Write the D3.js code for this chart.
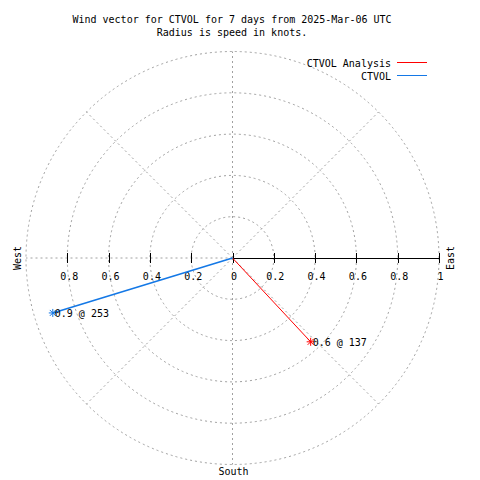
<!DOCTYPE html>
<html><head><meta charset="utf-8">
<script src="https://cdn.jsdelivr.net/npm/d3@7"></script>
<style>
html,body{margin:0;padding:0;background:#fff;}
svg{display:block;}
text{font-family:"DejaVu Sans Mono",monospace;font-size:10px;fill:#000;}
</style></head>
<body>
<script>
// ---- data ----
const seriesNames = ["CTVOL Analysis", "CTVOL"];
const seriesColors = ["#ff0000", "#1478e6"];
const speeds = [0.555, 0.91];       // knots
const directions = [137, 253];      // degrees (compass)
const rightTicks = [0, 0.2, 0.4, 0.6, 0.8, 1];
const leftTicks = [0.2, 0.4, 0.6, 0.8];
const leftTickLabels = ["0.2", "0.4", "0.6", "0.8"];
const rightTickLabels = ["0", "0.2", "0.4", "0.6", "0.8", "1"];
const gridRadii = [0.2, 0.4, 0.6, 0.8, 1.0];
const gridAngles = [0, 45, 90, 135, 180, 225, 270, 315];
const titleLines = ["Wind vector for CTVOL for 7 days from 2025-Mar-06 UTC", "Radius is speed in knots."];

// ---- layout ----
const W = 480, H = 480;
const cx = 232.5, cy = 258, R = 206.5;
const svg = d3.select("body").append("svg").attr("width", W).attr("height", H);
const r = d3.scaleLinear().domain([0, 1]).range([0, R]);
const xRight = d3.scaleLinear().domain([0, 1]).range([cx, cx + R]);
const xLeft = d3.scaleLinear().domain([0, 1]).range([cx, cx - R]);
const ang = d3.scaleLinear().domain([0, 360]).range([0, 2 * Math.PI]);
function pt(speed, dir) {
  const a = ang(dir);
  return [cx + r(speed) * Math.sin(a), cy - r(speed) * Math.cos(a)];
}

const gridColor = "#a0a0a0", dash = "2,3";
const g = svg.append("g");
// grid circles
g.selectAll("circle.grid").data(gridRadii).join("circle")
  .attr("cx", cx).attr("cy", cy).attr("r", d => r(d))
  .attr("fill", "none").attr("stroke", gridColor).attr("stroke-dasharray", dash);
// radial grid lines (skip east which is solid axis)
g.selectAll("line.rad").data(gridAngles.filter(a => a !== 90)).join("line")
  .attr("x1", cx).attr("y1", cy)
  .attr("x2", d => pt(1, d)[0]).attr("y2", d => pt(1, d)[1])
  .attr("stroke", gridColor).attr("stroke-dasharray", dash);

// axis (right, solid)
g.append("line").attr("x1", xRight(0)).attr("x2", xRight(1)).attr("y1", cy + 0.5).attr("y2", cy + 0.5)
  .attr("stroke", "#000").attr("shape-rendering", "crispEdges");
g.selectAll("line.rt").data(rightTicks).join("line")
  .attr("x1", d => Math.round(xRight(d)) + 0.5).attr("x2", d => Math.round(xRight(d)) + 0.5)
  .attr("y1", cy - 5).attr("y2", cy + 5).attr("stroke", "#000");
g.selectAll("line.lt").data(leftTicks).join("line")
  .attr("x1", d => Math.round(xLeft(d)) + 0.5).attr("x2", d => Math.round(xLeft(d)) + 0.5)
  .attr("y1", cy - 5).attr("y2", cy + 5).attr("stroke", "#000");

// tick labels
g.selectAll("text.rl").data(rightTicks).join("text")
  .attr("x", d => xRight(d) + 1.5).attr("y", 280).attr("text-anchor", "middle")
  .text((d, i) => rightTickLabels[i]);
g.selectAll("text.ll").data(leftTicks).join("text")
  .attr("x", d => xLeft(d) + 2).attr("y", 280).attr("text-anchor", "middle")
  .text((d, i) => leftTickLabels[i]);

// compass labels
svg.append("text").attr("transform", `translate(21,${cy}) rotate(-90)`).attr("text-anchor", "middle").text("West");
svg.append("text").attr("transform", `translate(454,${cy}) rotate(-90)`).attr("text-anchor", "middle").text("East");
svg.append("text").attr("x", cx + 1).attr("y", 475).attr("text-anchor", "middle").text("South");

// title
svg.selectAll("text.title").data(titleLines).join("text")
  .attr("x", 232).attr("y", (d, i) => 23 + i * 13).attr("text-anchor", "middle").text(d => d);

// vectors
const fmt = d3.format(".1f");
speeds.forEach((s, i) => {
  const [px, py] = pt(s, directions[i]);
  const col = seriesColors[i];
  svg.append("line").attr("x1", cx).attr("y1", cy).attr("x2", px).attr("y2", py)
    .attr("stroke", col).attr("stroke-width", i === 1 ? 1.6 : 1);
  const k = 4;
  const star = svg.append("g").attr("stroke", col).attr("stroke-width", 1);
  star.append("line").attr("x1", px - k).attr("x2", px + k).attr("y1", py).attr("y2", py);
  star.append("line").attr("x1", px).attr("x2", px).attr("y1", py - k).attr("y2", py + k);
  star.append("line").attr("x1", px - k * 0.75).attr("x2", px + k * 0.75).attr("y1", py - k * 0.75).attr("y2", py + k * 0.75);
  star.append("line").attr("x1", px - k * 0.75).attr("x2", px + k * 0.75).attr("y1", py + k * 0.75).attr("y2", py - k * 0.75);
  svg.append("text").attr("x", px + 2).attr("y", py + 4).text(`${fmt(s)} @ ${directions[i]}`);
});

// legend
seriesNames.forEach((n, i) => {
  const y = 62.5 + i * 13;
  svg.append("text").attr("x", 391).attr("y", y + 4).attr("text-anchor", "end").text(n);
  svg.append("line").attr("x1", 397).attr("x2", 427).attr("y1", y).attr("y2", y)
    .attr("stroke", seriesColors[i]).attr("stroke-width", 1.2).attr("shape-rendering", "crispEdges");
});
</script>
</body></html>
